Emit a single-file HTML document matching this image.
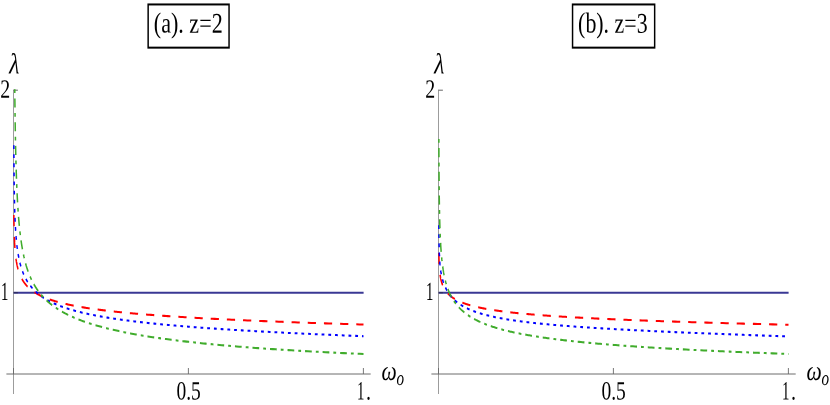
<!DOCTYPE html>
<html><head><meta charset="utf-8"><title>plot</title>
<style>
html,body{margin:0;padding:0;background:#fff;}
body{width:830px;height:405px;overflow:hidden;font-family:"Liberation Serif",serif;}
svg{display:block}
.t{font-family:"Liberation Serif",serif;fill:#000}
.i{font-family:"Liberation Serif",serif;font-style:italic;fill:#000}
</style></head><body>
<svg width="830" height="405" viewBox="0 0 830 405">
<rect width="830" height="405" fill="#fff"/>
<g stroke="#666" fill="none">
<line x1="6.4" y1="374" x2="370.7" y2="374" stroke-width="1" stroke="#6c6c6c"/>
<line x1="13.5" y1="89.7" x2="13.5" y2="394" stroke-width="0.65"/>
<line x1="13.5" y1="368" x2="13.5" y2="374" stroke-width="0.88"/>
<line x1="188.4" y1="368" x2="188.4" y2="374" stroke-width="0.88"/>
<line x1="363.4" y1="368" x2="363.4" y2="374" stroke-width="0.88"/>
</g>
<line x1="13.6" y1="292.7" x2="363.6" y2="292.7" stroke="#3a3894" stroke-width="1.9"/>
<g stroke="#666" fill="none" stroke-width="1">
<line x1="13.5" y1="90.2" x2="17.9" y2="90.2"/>
<line x1="13.5" y1="292.8" x2="17.9" y2="292.8" stroke="#222" stroke-opacity="0.6"/>
</g>
<g transform="scale(0.74,1)" fill="none" stroke-width="2.05" stroke-linejoin="round">
<path d="M 18.72,215.09 18.72,215.43 18.73,215.78 18.73,216.11 18.74,216.45 18.74,216.79 18.75,217.12 18.76,217.46 18.76,217.79 18.77,218.12 18.77,218.44 18.78,218.77 18.79,219.10 18.79,219.42 18.80,219.74 18.81,220.06 18.81,220.38 18.82,220.70 18.83,221.02 18.83,221.34 18.84,221.65 18.85,221.96 18.85,222.27 18.86,222.58 18.87,222.89 18.87,223.20 18.88,223.51 18.89,223.81 18.90,224.12 18.90,224.42 18.91,224.72 18.92,225.02 18.93,225.32 18.94,225.62 18.94,225.91 18.95,226.21 18.96,226.50 18.97,226.80 18.98,227.09 18.98,227.38 18.99,227.67 19.00,227.96 19.01,228.24 19.02,228.53 19.03,228.82 19.04,229.10 19.05,229.38 19.06,229.67 19.07,229.95 19.08,230.23 19.09,230.51 19.09,230.78 19.10,231.06 19.11,231.34 19.12,231.61 19.14,231.89 19.15,232.16 19.16,232.43 19.17,232.70 19.18,232.97 19.19,233.24 19.20,233.51 19.21,233.78 19.22,234.05 19.23,234.31 19.24,234.58 19.26,234.84 19.27,235.10 19.28,235.37 19.29,235.63 19.30,235.89 19.32,236.15 19.33,236.41 19.34,236.67 19.35,236.92 19.37,237.18 19.38,237.43 19.39,237.69 19.41,237.94 19.42,238.20 19.43,238.45 19.45,238.70 19.46,238.95 19.48,239.20 19.49,239.45 19.50,239.70 19.52,239.95 19.53,240.20 19.55,240.45 19.56,240.69 19.58,240.94 19.59,241.18 19.61,241.43 19.63,241.67 19.64,241.91 19.66,242.16 19.67,242.40 19.69,242.64 19.71,242.88 19.72,243.12 19.74,243.36 19.76,243.60 19.78,243.83 19.79,244.07 19.81,244.31 19.83,244.54 19.85,244.78 19.87,245.01 19.89,245.25 19.91,245.48 19.92,245.71 19.94,245.95 19.96,246.18 19.98,246.41 20.00,246.64 20.02,246.87 20.05,247.10 20.07,247.33 20.09,247.56 20.11,247.78 20.13,248.01 20.15,248.24 20.17,248.47 20.20,248.69 20.22,248.92 20.24,249.14 20.27,249.37 20.29,249.59 20.31,249.81 20.34,250.04 20.36,250.26 20.39,250.48 20.41,250.70 20.44,250.92 20.46,251.15 20.49,251.37 20.51,251.58 20.54,251.80 20.57,252.02 20.59,252.24 20.62,252.46 20.65,252.68 20.68,252.89 20.70,253.11 20.73,253.33 20.76,253.54 20.79,253.76 20.82,253.97 20.85,254.19 20.88,254.40 20.91,254.62 20.94,254.83 20.97,255.04 21.00,255.25 21.04,255.47 21.07,255.68 21.10,255.89 21.13,256.10 21.17,256.31 21.20,256.52 21.24,256.73 21.27,256.94 21.31,257.15 21.34,257.36 21.38,257.57 21.41,257.77 21.45,257.98 21.49,258.19 21.53,258.40 21.56,258.60 21.60,258.81 21.64,259.01 21.68,259.22 21.72,259.42 21.76,259.63 21.80,259.83 21.84,260.04 21.89,260.24 21.93,260.45 21.97,260.65 22.01,260.85 22.06,261.05 22.10,261.26 22.15,261.46 22.19,261.66 22.24,261.86 22.28,262.06 22.33,262.26 22.38,262.46 22.43,262.66 22.47,262.86 22.52,263.06 22.57,263.26 22.62,263.46 22.67,263.66 22.73,263.86 22.78,264.05 22.83,264.25 22.88,264.45 22.94,264.65 22.99,264.84 23.05,265.04 23.10,265.23 23.16,265.43 23.22,265.63 23.27,265.82 23.33,266.02 23.39,266.21 23.45,266.40 23.51,266.60 23.57,266.79 23.63,266.99 23.70,267.18 23.76,267.37 23.82,267.56 23.89,267.76 23.95,267.95 24.02,268.14 24.09,268.33 24.15,268.52 24.22,268.72 24.29,268.91 24.36,269.10 24.43,269.29 24.51,269.48 24.58,269.67 24.65,269.86 24.73,270.05 24.80,270.23 24.88,270.42 24.95,270.61 25.03,270.80 25.11,270.99 25.19,271.18 25.27,271.36 25.35,271.55 25.43,271.74 25.52,271.92 25.60,272.11 25.69,272.30 25.77,272.48 25.86,272.67 25.95,272.85 26.04,273.04 26.13,273.22 26.22,273.41 26.31,273.59 26.41,273.78 26.50,273.96 26.60,274.14 26.69,274.33 26.79,274.51 26.89,274.69 26.99,274.88 27.09,275.06 27.20,275.24 27.30,275.42 27.41,275.60 27.51,275.79 27.62,275.97 27.73,276.15 27.84,276.33 27.95,276.51 28.06,276.69 28.18,276.87 28.29,277.05 28.41,277.23 28.52,277.41 28.64,277.59 28.76,277.76 28.89,277.94 29.01,278.12 29.14,278.30 29.26,278.48 29.39,278.66 29.52,278.83 29.65,279.01 29.78,279.19 29.92,279.36 30.05,279.54 30.19,279.72 30.33,279.89 30.47,280.07 30.61,280.24 30.75,280.42 30.90,280.59 31.04,280.77 31.19,280.94 31.34,281.12 31.49,281.29 31.65,281.46 31.80,281.64 31.96,281.81 32.12,281.98 32.28,282.16 32.44,282.33 32.61,282.50 32.77,282.67 32.94,282.85 33.11,283.02 33.29,283.19 33.46,283.36 33.64,283.53 33.82,283.70 34.00,283.87 34.18,284.04 34.36,284.21 34.55,284.38 34.74,284.55 34.93,284.72 35.13,284.89 35.32,285.06 35.52,285.23 35.72,285.39 35.92,285.56 36.13,285.73 36.33,285.90 36.54,286.07 36.76,286.23 36.97,286.40 37.19,286.57 37.41,286.73 37.63,286.90 37.86,287.06 38.08,287.23 38.31,287.40 38.55,287.56 38.78,287.73 39.02,287.89 39.26,288.05 39.50,288.22 39.75,288.38 40.00,288.55 40.25,288.71 40.51,288.87 40.77,289.04 41.03,289.20 41.29,289.36 41.56,289.52 41.83,289.69 42.10,289.85 42.38,290.01 42.66,290.17 42.94,290.33 43.23,290.49 43.52,290.65 43.81,290.81 44.11,290.97 44.41,291.13 44.71,291.29 45.02,291.45 45.33,291.61 45.64,291.77 45.96,291.93 46.28,292.09 46.61,292.25 46.94,292.40 47.27,292.56 47.61,292.72 47.95,292.88 48.29,293.03 48.64,293.19 48.99,293.35 49.35,293.50 49.71,293.66 50.08,293.81 50.45,293.97 50.82,294.12 51.20,294.28 51.58,294.43 51.97,294.59 52.36,294.74 52.75,294.90 53.15,295.05 53.56,295.20 53.97,295.36 54.38,295.51 54.80,295.66 55.23,295.81 55.65,295.97 56.09,296.12 56.53,296.27 56.97,296.42 57.42,296.57 57.87,296.72 58.33,296.88 58.80,297.03 59.27,297.18 59.75,297.33 60.23,297.48 60.71,297.63 61.21,297.77 61.71,297.92 62.21,298.07 62.72,298.22 63.24,298.37 63.76,298.52 64.28,298.67 64.82,298.81 65.36,298.96 65.91,299.11 66.46,299.25 67.02,299.40 67.58,299.55 68.16,299.69 68.73,299.84 69.32,299.99 69.91,300.13 70.51,300.28 71.12,300.42 71.73,300.57 72.35,300.71 72.98,300.85 73.61,301.00 74.26,301.14 74.91,301.29 75.56,301.43 76.23,301.57 76.90,301.71 77.58,301.86 78.27,302.00 78.97,302.14 79.67,302.28 80.38,302.42 81.10,302.57 81.83,302.71 82.57,302.85 83.32,302.99 84.07,303.13 84.83,303.27 85.61,303.41 86.39,303.55 87.18,303.69 87.98,303.83 88.79,303.97 89.61,304.11 90.43,304.24 91.27,304.38 92.12,304.52 92.97,304.66 93.84,304.80 94.72,304.93 95.60,305.07 96.50,305.21 97.41,305.34 98.33,305.48 99.26,305.62 100.20,305.75 101.15,305.89 102.11,306.02 103.08,306.16 104.07,306.29 105.06,306.43 106.07,306.56 107.09,306.70 108.12,306.83 109.16,306.97 110.21,307.10 111.28,307.23 112.36,307.37 113.45,307.50 114.56,307.63 115.67,307.77 116.80,307.90 117.95,308.03 119.10,308.16 120.27,308.30 121.46,308.43 122.65,308.56 123.86,308.69 125.09,308.82 126.33,308.95 127.58,309.08 128.85,309.21 130.13,309.34 131.43,309.47 132.74,309.60 134.07,309.73 135.42,309.86 136.77,309.99 138.15,310.12 139.54,310.25 140.95,310.38 142.37,310.51 143.81,310.64 145.27,310.76 146.74,310.89 148.23,311.02 149.74,311.15 151.26,311.27 152.81,311.40 154.37,311.53 155.95,311.66 157.54,311.78 159.16,311.91 160.79,312.03 162.45,312.16 164.12,312.29 165.81,312.41 167.52,312.54 169.25,312.66 171.01,312.79 172.78,312.91 174.57,313.04 176.38,313.16 178.22,313.29 180.07,313.41 181.95,313.54 183.85,313.66 185.77,313.78 187.71,313.91 189.68,314.03 191.67,314.16 193.68,314.28 195.71,314.40 197.77,314.53 199.85,314.65 201.96,314.77 204.09,314.89 206.25,315.02 208.43,315.14 210.63,315.26 212.87,315.38 215.12,315.50 217.41,315.63 219.72,315.75 222.05,315.87 224.42,315.99 226.81,316.11 229.23,316.23 231.68,316.36 234.15,316.48 236.66,316.60 239.19,316.72 241.75,316.84 244.34,316.96 246.97,317.08 249.62,317.20 252.30,317.32 255.02,317.44 257.76,317.56 260.54,317.68 263.35,317.80 266.20,317.92 269.07,318.04 271.98,318.16 274.92,318.28 277.90,318.40 280.91,318.52 283.96,318.64 287.04,318.76 290.16,318.87 293.31,318.99 296.50,319.11 299.73,319.23 303.00,319.35 306.30,319.47 309.64,319.59 313.02,319.71 316.44,319.83 319.90,319.94 323.40,320.06 326.94,320.18 330.52,320.30 334.14,320.42 337.80,320.54 341.51,320.65 345.26,320.77 349.05,320.89 352.89,321.01 356.77,321.13 360.70,321.25 364.67,321.36 368.69,321.48 372.75,321.60 376.86,321.72 381.02,321.84 385.23,321.95 389.49,322.07 393.79,322.19 398.15,322.31 402.56,322.43 407.01,322.55 411.52,322.66 416.09,322.78 420.70,322.90 425.37,323.02 430.09,323.14 434.87,323.25 439.70,323.37 444.59,323.49 449.53,323.61 454.54,323.73 459.60,323.85 464.72,323.97 469.89,324.08 475.13,324.20 480.43,324.32 485.79,324.44 491.22,324.56" stroke="#ff0000" stroke-dasharray="11.1 10.77"/>
<path d="M 18.72,145.15 18.72,145.98 18.73,146.80 18.73,147.62 18.74,148.43 18.74,149.23 18.75,150.03 18.76,150.82 18.76,151.61 18.77,152.39 18.77,153.17 18.78,153.94 18.79,154.71 18.79,155.47 18.80,156.23 18.81,156.98 18.81,157.72 18.82,158.46 18.83,159.20 18.83,159.93 18.84,160.65 18.85,161.38 18.85,162.09 18.86,162.80 18.87,163.51 18.87,164.21 18.88,164.91 18.89,165.60 18.90,166.29 18.90,166.98 18.91,167.66 18.92,168.33 18.93,169.00 18.94,169.67 18.94,170.33 18.95,170.99 18.96,171.65 18.97,172.30 18.98,172.95 18.98,173.59 18.99,174.23 19.00,174.86 19.01,175.49 19.02,176.12 19.03,176.75 19.04,177.37 19.05,177.98 19.06,178.60 19.07,179.20 19.08,179.81 19.09,180.41 19.09,181.01 19.10,181.61 19.11,182.20 19.12,182.79 19.14,183.37 19.15,183.96 19.16,184.53 19.17,185.11 19.18,185.68 19.19,186.25 19.20,186.82 19.21,187.38 19.22,187.94 19.23,188.50 19.24,189.05 19.26,189.60 19.27,190.15 19.28,190.70 19.29,191.24 19.30,191.78 19.32,192.32 19.33,192.85 19.34,193.38 19.35,193.91 19.37,194.44 19.38,194.96 19.39,195.48 19.41,196.00 19.42,196.52 19.43,197.03 19.45,197.54 19.46,198.05 19.48,198.56 19.49,199.06 19.50,199.56 19.52,200.06 19.53,200.56 19.55,201.05 19.56,201.54 19.58,202.03 19.59,202.52 19.61,203.00 19.63,203.49 19.64,203.97 19.66,204.45 19.67,204.92 19.69,205.40 19.71,205.87 19.72,206.34 19.74,206.81 19.76,207.27 19.78,207.74 19.79,208.20 19.81,208.66 19.83,209.12 19.85,209.57 19.87,210.03 19.89,210.48 19.91,210.93 19.92,211.38 19.94,211.83 19.96,212.27 19.98,212.72 20.00,213.16 20.02,213.60 20.05,214.03 20.07,214.47 20.09,214.91 20.11,215.34 20.13,215.77 20.15,216.20 20.17,216.63 20.20,217.05 20.22,217.48 20.24,217.90 20.27,218.32 20.29,218.74 20.31,219.16 20.34,219.58 20.36,220.00 20.39,220.41 20.41,220.82 20.44,221.23 20.46,221.64 20.49,222.05 20.51,222.46 20.54,222.86 20.57,223.27 20.59,223.67 20.62,224.07 20.65,224.47 20.68,224.87 20.70,225.27 20.73,225.66 20.76,226.06 20.79,226.45 20.82,226.84 20.85,227.23 20.88,227.62 20.91,228.01 20.94,228.40 20.97,228.79 21.00,229.17 21.04,229.55 21.07,229.94 21.10,230.32 21.13,230.70 21.17,231.08 21.20,231.45 21.24,231.83 21.27,232.21 21.31,232.58 21.34,232.95 21.38,233.33 21.41,233.70 21.45,234.07 21.49,234.43 21.53,234.80 21.56,235.17 21.60,235.54 21.64,235.90 21.68,236.26 21.72,236.63 21.76,236.99 21.80,237.35 21.84,237.71 21.89,238.07 21.93,238.42 21.97,238.78 22.01,239.14 22.06,239.49 22.10,239.85 22.15,240.20 22.19,240.55 22.24,240.90 22.28,241.25 22.33,241.60 22.38,241.95 22.43,242.30 22.47,242.64 22.52,242.99 22.57,243.33 22.62,243.68 22.67,244.02 22.73,244.36 22.78,244.71 22.83,245.05 22.88,245.39 22.94,245.72 22.99,246.06 23.05,246.40 23.10,246.74 23.16,247.07 23.22,247.41 23.27,247.74 23.33,248.07 23.39,248.41 23.45,248.74 23.51,249.07 23.57,249.40 23.63,249.73 23.70,250.06 23.76,250.39 23.82,250.71 23.89,251.04 23.95,251.37 24.02,251.69 24.09,252.01 24.15,252.34 24.22,252.66 24.29,252.98 24.36,253.30 24.43,253.62 24.51,253.94 24.58,254.26 24.65,254.58 24.73,254.90 24.80,255.22 24.88,255.53 24.95,255.85 25.03,256.16 25.11,256.48 25.19,256.79 25.27,257.10 25.35,257.42 25.43,257.73 25.52,258.04 25.60,258.35 25.69,258.66 25.77,258.97 25.86,259.28 25.95,259.58 26.04,259.89 26.13,260.20 26.22,260.50 26.31,260.81 26.41,261.11 26.50,261.42 26.60,261.72 26.69,262.02 26.79,262.32 26.89,262.62 26.99,262.92 27.09,263.22 27.20,263.52 27.30,263.82 27.41,264.12 27.51,264.42 27.62,264.71 27.73,265.01 27.84,265.31 27.95,265.60 28.06,265.90 28.18,266.19 28.29,266.48 28.41,266.78 28.52,267.07 28.64,267.36 28.76,267.65 28.89,267.94 29.01,268.23 29.14,268.52 29.26,268.81 29.39,269.10 29.52,269.38 29.65,269.67 29.78,269.96 29.92,270.24 30.05,270.53 30.19,270.81 30.33,271.09 30.47,271.38 30.61,271.66 30.75,271.94 30.90,272.22 31.04,272.50 31.19,272.78 31.34,273.06 31.49,273.34 31.65,273.62 31.80,273.90 31.96,274.18 32.12,274.45 32.28,274.73 32.44,275.01 32.61,275.28 32.77,275.56 32.94,275.83 33.11,276.10 33.29,276.38 33.46,276.65 33.64,276.92 33.82,277.19 34.00,277.46 34.18,277.73 34.36,278.00 34.55,278.27 34.74,278.54 34.93,278.81 35.13,279.07 35.32,279.34 35.52,279.61 35.72,279.87 35.92,280.14 36.13,280.40 36.33,280.67 36.54,280.93 36.76,281.19 36.97,281.45 37.19,281.72 37.41,281.98 37.63,282.24 37.86,282.50 38.08,282.76 38.31,283.02 38.55,283.27 38.78,283.53 39.02,283.79 39.26,284.05 39.50,284.30 39.75,284.56 40.00,284.81 40.25,285.07 40.51,285.32 40.77,285.57 41.03,285.83 41.29,286.08 41.56,286.33 41.83,286.58 42.10,286.83 42.38,287.08 42.66,287.33 42.94,287.58 43.23,287.83 43.52,288.08 43.81,288.33 44.11,288.57 44.41,288.82 44.71,289.06 45.02,289.31 45.33,289.55 45.64,289.80 45.96,290.04 46.28,290.28 46.61,290.53 46.94,290.77 47.27,291.01 47.61,291.25 47.95,291.49 48.29,291.73 48.64,291.97 48.99,292.21 49.35,292.45 49.71,292.68 50.08,292.92 50.45,293.16 50.82,293.39 51.20,293.63 51.58,293.86 51.97,294.10 52.36,294.33 52.75,294.57 53.15,294.80 53.56,295.03 53.97,295.26 54.38,295.49 54.80,295.72 55.23,295.95 55.65,296.18 56.09,296.41 56.53,296.64 56.97,296.87 57.42,297.09 57.87,297.32 58.33,297.55 58.80,297.77 59.27,298.00 59.75,298.22 60.23,298.45 60.71,298.67 61.21,298.89 61.71,299.12 62.21,299.34 62.72,299.56 63.24,299.78 63.76,300.00 64.28,300.22 64.82,300.44 65.36,300.66 65.91,300.88 66.46,301.09 67.02,301.31 67.58,301.53 68.16,301.74 68.73,301.96 69.32,302.18 69.91,302.39 70.51,302.60 71.12,302.82 71.73,303.03 72.35,303.24 72.98,303.46 73.61,303.67 74.26,303.88 74.91,304.09 75.56,304.30 76.23,304.51 76.90,304.72 77.58,304.92 78.27,305.13 78.97,305.34 79.67,305.55 80.38,305.75 81.10,305.96 81.83,306.16 82.57,306.37 83.32,306.57 84.07,306.78 84.83,306.98 85.61,307.18 86.39,307.39 87.18,307.59 87.98,307.79 88.79,307.99 89.61,308.19 90.43,308.39 91.27,308.59 92.12,308.79 92.97,308.99 93.84,309.18 94.72,309.38 95.60,309.58 96.50,309.78 97.41,309.97 98.33,310.17 99.26,310.36 100.20,310.56 101.15,310.75 102.11,310.94 103.08,311.14 104.07,311.33 105.06,311.52 106.07,311.71 107.09,311.90 108.12,312.10 109.16,312.29 110.21,312.48 111.28,312.66 112.36,312.85 113.45,313.04 114.56,313.23 115.67,313.42 116.80,313.61 117.95,313.79 119.10,313.98 120.27,314.16 121.46,314.35 122.65,314.53 123.86,314.72 125.09,314.90 126.33,315.09 127.58,315.27 128.85,315.45 130.13,315.63 131.43,315.82 132.74,316.00 134.07,316.18 135.42,316.36 136.77,316.54 138.15,316.72 139.54,316.90 140.95,317.08 142.37,317.26 143.81,317.44 145.27,317.61 146.74,317.79 148.23,317.97 149.74,318.15 151.26,318.32 152.81,318.50 154.37,318.67 155.95,318.85 157.54,319.02 159.16,319.20 160.79,319.37 162.45,319.54 164.12,319.72 165.81,319.89 167.52,320.06 169.25,320.24 171.01,320.41 172.78,320.58 174.57,320.75 176.38,320.92 178.22,321.09 180.07,321.26 181.95,321.43 183.85,321.60 185.77,321.77 187.71,321.94 189.68,322.11 191.67,322.28 193.68,322.45 195.71,322.61 197.77,322.78 199.85,322.95 201.96,323.11 204.09,323.28 206.25,323.45 208.43,323.61 210.63,323.78 212.87,323.94 215.12,324.11 217.41,324.27 219.72,324.44 222.05,324.60 224.42,324.77 226.81,324.93 229.23,325.09 231.68,325.26 234.15,325.42 236.66,325.58 239.19,325.75 241.75,325.91 244.34,326.07 246.97,326.23 249.62,326.39 252.30,326.55 255.02,326.72 257.76,326.88 260.54,327.04 263.35,327.20 266.20,327.36 269.07,327.52 271.98,327.68 274.92,327.84 277.90,328.00 280.91,328.16 283.96,328.32 287.04,328.48 290.16,328.64 293.31,328.80 296.50,328.95 299.73,329.11 303.00,329.27 306.30,329.43 309.64,329.59 313.02,329.75 316.44,329.91 319.90,330.06 323.40,330.22 326.94,330.38 330.52,330.54 334.14,330.70 337.80,330.85 341.51,331.01 345.26,331.17 349.05,331.33 352.89,331.48 356.77,331.64 360.70,331.80 364.67,331.95 368.69,332.11 372.75,332.27 376.86,332.43 381.02,332.58 385.23,332.74 389.49,332.90 393.79,333.05 398.15,333.21 402.56,333.37 407.01,333.53 411.52,333.68 416.09,333.84 420.70,334.00 425.37,334.16 430.09,334.31 434.87,334.47 439.70,334.63 444.59,334.79 449.53,334.94 454.54,335.10 459.60,335.26 464.72,335.42 469.89,335.57 475.13,335.73 480.43,335.89 485.79,336.05 491.22,336.21" stroke="#0000ff" stroke-dasharray="3.8 5.3"/>
<path d="M 19.95,89.30 19.96,90.33 19.98,91.80 20.00,93.26 20.02,94.71 20.05,96.15 20.07,97.59 20.09,99.02 20.11,100.44 20.13,101.85 20.15,103.25 20.17,104.64 20.20,106.03 20.22,107.40 20.24,108.77 20.27,110.13 20.29,111.48 20.31,112.83 20.34,114.16 20.36,115.49 20.39,116.81 20.41,118.12 20.44,119.43 20.46,120.72 20.49,122.01 20.51,123.29 20.54,124.57 20.57,125.83 20.59,127.09 20.62,128.34 20.65,129.59 20.68,130.83 20.70,132.05 20.73,133.28 20.76,134.49 20.79,135.70 20.82,136.90 20.85,138.09 20.88,139.28 20.91,140.46 20.94,141.63 20.97,142.80 21.00,143.95 21.04,145.11 21.07,146.25 21.10,147.39 21.13,148.52 21.17,149.65 21.20,150.77 21.24,151.88 21.27,152.98 21.31,154.08 21.34,155.17 21.38,156.26 21.41,157.34 21.45,158.41 21.49,159.48 21.53,160.54 21.56,161.60 21.60,162.65 21.64,163.69 21.68,164.73 21.72,165.76 21.76,166.78 21.80,167.80 21.84,168.81 21.89,169.82 21.93,170.82 21.97,171.82 22.01,172.81 22.06,173.79 22.10,174.77 22.15,175.75 22.19,176.71 22.24,177.68 22.28,178.63 22.33,179.58 22.38,180.53 22.43,181.47 22.47,182.40 22.52,183.33 22.57,184.26 22.62,185.18 22.67,186.09 22.73,187.00 22.78,187.90 22.83,188.80 22.88,189.70 22.94,190.58 22.99,191.47 23.05,192.35 23.10,193.22 23.16,194.09 23.22,194.95 23.27,195.81 23.33,196.67 23.39,197.52 23.45,198.36 23.51,199.20 23.57,200.04 23.63,200.87 23.70,201.69 23.76,202.52 23.82,203.33 23.89,204.15 23.95,204.95 24.02,205.76 24.09,206.56 24.15,207.35 24.22,208.14 24.29,208.93 24.36,209.71 24.43,210.49 24.51,211.26 24.58,212.03 24.65,212.80 24.73,213.56 24.80,214.32 24.88,215.07 24.95,215.82 25.03,216.56 25.11,217.30 25.19,218.04 25.27,218.77 25.35,219.50 25.43,220.23 25.52,220.95 25.60,221.67 25.69,222.38 25.77,223.09 25.86,223.80 25.95,224.50 26.04,225.20 26.13,225.89 26.22,226.58 26.31,227.27 26.41,227.96 26.50,228.64 26.60,229.31 26.69,229.99 26.79,230.66 26.89,231.32 26.99,231.99 27.09,232.65 27.20,233.30 27.30,233.96 27.41,234.61 27.51,235.25 27.62,235.89 27.73,236.53 27.84,237.17 27.95,237.80 28.06,238.43 28.18,239.06 28.29,239.68 28.41,240.30 28.52,240.92 28.64,241.54 28.76,242.15 28.89,242.75 29.01,243.36 29.14,243.96 29.26,244.56 29.39,245.16 29.52,245.75 29.65,246.34 29.78,246.93 29.92,247.51 30.05,248.09 30.19,248.67 30.33,249.25 30.47,249.82 30.61,250.39 30.75,250.96 30.90,251.52 31.04,252.09 31.19,252.65 31.34,253.20 31.49,253.76 31.65,254.31 31.80,254.86 31.96,255.40 32.12,255.95 32.28,256.49 32.44,257.03 32.61,257.56 32.77,258.09 32.94,258.63 33.11,259.15 33.29,259.68 33.46,260.20 33.64,260.72 33.82,261.24 34.00,261.76 34.18,262.27 34.36,262.78 34.55,263.29 34.74,263.80 34.93,264.30 35.13,264.81 35.32,265.31 35.52,265.80 35.72,266.30 35.92,266.79 36.13,267.28 36.33,267.77 36.54,268.26 36.76,268.74 36.97,269.23 37.19,269.71 37.41,270.18 37.63,270.66 37.86,271.13 38.08,271.61 38.31,272.08 38.55,272.54 38.78,273.01 39.02,273.47 39.26,273.93 39.50,274.39 39.75,274.85 40.00,275.31 40.25,275.76 40.51,276.21 40.77,276.66 41.03,277.11 41.29,277.56 41.56,278.00 41.83,278.45 42.10,278.89 42.38,279.32 42.66,279.76 42.94,280.20 43.23,280.63 43.52,281.06 43.81,281.49 44.11,281.92 44.41,282.35 44.71,282.77 45.02,283.19 45.33,283.61 45.64,284.03 45.96,284.45 46.28,284.87 46.61,285.28 46.94,285.70 47.27,286.11 47.61,286.52 47.95,286.92 48.29,287.33 48.64,287.74 48.99,288.14 49.35,288.54 49.71,288.94 50.08,289.34 50.45,289.74 50.82,290.13 51.20,290.53 51.58,290.92 51.97,291.31 52.36,291.70 52.75,292.09 53.15,292.47 53.56,292.86 53.97,293.24 54.38,293.63 54.80,294.01 55.23,294.39 55.65,294.76 56.09,295.14 56.53,295.52 56.97,295.89 57.42,296.26 57.87,296.63 58.33,297.00 58.80,297.37 59.27,297.74 59.75,298.11 60.23,298.47 60.71,298.83 61.21,299.20 61.71,299.56 62.21,299.92 62.72,300.27 63.24,300.63 63.76,300.99 64.28,301.34 64.82,301.69 65.36,302.05 65.91,302.40 66.46,302.75 67.02,303.10 67.58,303.44 68.16,303.79 68.73,304.13 69.32,304.48 69.91,304.82 70.51,305.16 71.12,305.50 71.73,305.84 72.35,306.18 72.98,306.52 73.61,306.85 74.26,307.19 74.91,307.52 75.56,307.85 76.23,308.18 76.90,308.51 77.58,308.84 78.27,309.17 78.97,309.50 79.67,309.83 80.38,310.15 81.10,310.47 81.83,310.80 82.57,311.12 83.32,311.44 84.07,311.76 84.83,312.08 85.61,312.40 86.39,312.71 87.18,313.03 87.98,313.34 88.79,313.66 89.61,313.97 90.43,314.28 91.27,314.59 92.12,314.90 92.97,315.21 93.84,315.52 94.72,315.83 95.60,316.13 96.50,316.44 97.41,316.74 98.33,317.05 99.26,317.35 100.20,317.65 101.15,317.95 102.11,318.25 103.08,318.55 104.07,318.85 105.06,319.14 106.07,319.44 107.09,319.74 108.12,320.03 109.16,320.32 110.21,320.62 111.28,320.91 112.36,321.20 113.45,321.49 114.56,321.78 115.67,322.07 116.80,322.35 117.95,322.64 119.10,322.92 120.27,323.21 121.46,323.49 122.65,323.78 123.86,324.06 125.09,324.34 126.33,324.62 127.58,324.90 128.85,325.18 130.13,325.46 131.43,325.73 132.74,326.01 134.07,326.29 135.42,326.56 136.77,326.84 138.15,327.11 139.54,327.38 140.95,327.65 142.37,327.92 143.81,328.19 145.27,328.46 146.74,328.73 148.23,329.00 149.74,329.27 151.26,329.53 152.81,329.80 154.37,330.06 155.95,330.33 157.54,330.59 159.16,330.85 160.79,331.11 162.45,331.37 164.12,331.63 165.81,331.89 167.52,332.15 169.25,332.41 171.01,332.66 172.78,332.92 174.57,333.17 176.38,333.43 178.22,333.68 180.07,333.94 181.95,334.19 183.85,334.44 185.77,334.69 187.71,334.94 189.68,335.19 191.67,335.44 193.68,335.68 195.71,335.93 197.77,336.18 199.85,336.42 201.96,336.67 204.09,336.91 206.25,337.15 208.43,337.40 210.63,337.64 212.87,337.88 215.12,338.12 217.41,338.36 219.72,338.59 222.05,338.83 224.42,339.07 226.81,339.30 229.23,339.54 231.68,339.77 234.15,340.01 236.66,340.24 239.19,340.47 241.75,340.71 244.34,340.94 246.97,341.17 249.62,341.39 252.30,341.62 255.02,341.85 257.76,342.08 260.54,342.30 263.35,342.53 266.20,342.75 269.07,342.98 271.98,343.20 274.92,343.42 277.90,343.64 280.91,343.86 283.96,344.08 287.04,344.30 290.16,344.52 293.31,344.74 296.50,344.96 299.73,345.17 303.00,345.39 306.30,345.60 309.64,345.81 313.02,346.03 316.44,346.24 319.90,346.45 323.40,346.66 326.94,346.87 330.52,347.08 334.14,347.29 337.80,347.49 341.51,347.70 345.26,347.90 349.05,348.11 352.89,348.31 356.77,348.52 360.70,348.72 364.67,348.92 368.69,349.12 372.75,349.32 376.86,349.52 381.02,349.72 385.23,349.91 389.49,350.11 393.79,350.30 398.15,350.50 402.56,350.69 407.01,350.88 411.52,351.08 416.09,351.27 420.70,351.46 425.37,351.65 430.09,351.84 434.87,352.02 439.70,352.21 444.59,352.39 449.53,352.58 454.54,352.76 459.60,352.95 464.72,353.13 469.89,353.31 475.13,353.49 480.43,353.67 485.79,353.85 491.22,354.02" stroke="#40ac2c" stroke-dasharray="3.8 5.37 9.1 5.45"/>
</g>
<g style="will-change:transform">
<rect transform="scale(0.74,1)" x="200.20" y="4.45" width="109.32" height="43.2" fill="none" stroke="#000" stroke-width="2"/>
<text class="t" transform="translate(153.8,32.6) scale(0.77,1) rotate(0.04)" font-size="28.7">(a). z=2</text>
<text class="t" transform="translate(8.0,73.4) scale(0.77,1) rotate(0.04) skewX(-10)" font-size="29">λ</text>
<text class="t" transform="translate(0.2,97.8) scale(0.755,1) rotate(0.04)" font-size="26.4">2</text>
<text class="t" transform="translate(1.0,300.1) scale(0.56,1) rotate(0.04)" font-size="26.2">1</text>
<text class="t" transform="translate(176.4,399.6) scale(0.735,1) rotate(0.04)" font-size="26.5">0.5</text>
<text class="t" transform="translate(357.0,399.6) scale(0.56,1) rotate(0.04)" font-size="26.5">1</text>
<text class="t" transform="translate(366.0,399.6) scale(0.76,1) rotate(0.04)" font-size="26.5">.</text>
<text class="i" transform="translate(381.5,380.1) scale(0.77,1) rotate(0.04)" font-size="28">ω</text>
<text class="i" transform="translate(396.4,385.1) scale(0.72,1) rotate(0.04)" font-size="21">o</text>
</g>
<g stroke="#666" fill="none">
<line x1="431.4" y1="374" x2="795.7" y2="374" stroke-width="1" stroke="#6c6c6c"/>
<line x1="438.5" y1="89.7" x2="438.5" y2="394" stroke-width="0.65"/>
<line x1="438.5" y1="368" x2="438.5" y2="374" stroke-width="0.88"/>
<line x1="613.4" y1="368" x2="613.4" y2="374" stroke-width="0.88"/>
<line x1="788.4" y1="368" x2="788.4" y2="374" stroke-width="0.88"/>
</g>
<line x1="438.6" y1="292.7" x2="788.6" y2="292.7" stroke="#3a3894" stroke-width="1.9"/>
<g stroke="#666" fill="none" stroke-width="1">
<line x1="438.5" y1="90.2" x2="442.9" y2="90.2"/>
<line x1="438.5" y1="292.8" x2="442.9" y2="292.8" stroke="#222" stroke-opacity="0.6"/>
</g>
<g transform="scale(0.74,1)" fill="none" stroke-width="2.05" stroke-linejoin="round">
<path d="M 593.04,253.03 593.05,253.26 593.05,253.49 593.06,253.72 593.06,253.95 593.07,254.18 593.07,254.40 593.08,254.62 593.09,254.84 593.09,255.06 593.10,255.28 593.10,255.50 593.11,255.72 593.12,255.93 593.12,256.14 593.13,256.35 593.14,256.56 593.14,256.77 593.15,256.98 593.16,257.19 593.16,257.39 593.17,257.59 593.18,257.80 593.18,258.00 593.19,258.20 593.20,258.40 593.21,258.59 593.21,258.79 593.22,258.98 593.23,259.18 593.24,259.37 593.24,259.56 593.25,259.75 593.26,259.94 593.27,260.13 593.28,260.32 593.28,260.50 593.29,260.69 593.30,260.87 593.31,261.06 593.32,261.24 593.33,261.42 593.34,261.60 593.34,261.78 593.35,261.96 593.36,262.13 593.37,262.31 593.38,262.49 593.39,262.66 593.40,262.83 593.41,263.01 593.42,263.18 593.43,263.35 593.44,263.52 593.45,263.69 593.46,263.86 593.47,264.02 593.48,264.19 593.49,264.36 593.50,264.52 593.51,264.69 593.52,264.85 593.53,265.01 593.55,265.18 593.56,265.34 593.57,265.50 593.58,265.66 593.59,265.82 593.60,265.97 593.62,266.13 593.63,266.29 593.64,266.45 593.65,266.60 593.67,266.76 593.68,266.91 593.69,267.07 593.70,267.22 593.72,267.37 593.73,267.52 593.74,267.68 593.76,267.83 593.77,267.98 593.79,268.13 593.80,268.28 593.81,268.42 593.83,268.57 593.84,268.72 593.86,268.87 593.87,269.01 593.89,269.16 593.90,269.30 593.92,269.45 593.93,269.59 593.95,269.74 593.97,269.88 593.98,270.02 594.00,270.17 594.02,270.31 594.03,270.45 594.05,270.59 594.07,270.73 594.08,270.87 594.10,271.01 594.12,271.15 594.14,271.29 594.16,271.43 594.17,271.57 594.19,271.71 594.21,271.84 594.23,271.98 594.25,272.12 594.27,272.25 594.29,272.39 594.31,272.53 594.33,272.66 594.35,272.80 594.37,272.93 594.39,273.06 594.41,273.20 594.43,273.33 594.45,273.47 594.48,273.60 594.50,273.73 594.52,273.86 594.54,274.00 594.57,274.13 594.59,274.26 594.61,274.39 594.64,274.52 594.66,274.65 594.69,274.78 594.71,274.91 594.73,275.04 594.76,275.17 594.79,275.30 594.81,275.43 594.84,275.56 594.86,275.69 594.89,275.82 594.92,275.94 594.94,276.07 594.97,276.20 595.00,276.33 595.03,276.46 595.06,276.58 595.09,276.71 595.11,276.84 595.14,276.96 595.17,277.09 595.20,277.22 595.23,277.34 595.27,277.47 595.30,277.59 595.33,277.72 595.36,277.84 595.39,277.97 595.43,278.09 595.46,278.22 595.49,278.34 595.53,278.47 595.56,278.59 595.60,278.72 595.63,278.84 595.67,278.96 595.70,279.09 595.74,279.21 595.78,279.34 595.81,279.46 595.85,279.58 595.89,279.71 595.93,279.83 595.97,279.95 596.01,280.07 596.05,280.20 596.09,280.32 596.13,280.44 596.17,280.56 596.21,280.69 596.25,280.81 596.29,280.93 596.34,281.05 596.38,281.17 596.43,281.30 596.47,281.42 596.52,281.54 596.56,281.66 596.61,281.78 596.65,281.90 596.70,282.02 596.75,282.14 596.80,282.27 596.85,282.39 596.90,282.51 596.95,282.63 597.00,282.75 597.05,282.87 597.10,282.99 597.15,283.11 597.21,283.23 597.26,283.35 597.32,283.47 597.37,283.59 597.43,283.71 597.48,283.83 597.54,283.95 597.60,284.07 597.66,284.19 597.71,284.31 597.77,284.43 597.83,284.55 597.90,284.67 597.96,284.79 598.02,284.91 598.08,285.03 598.15,285.15 598.21,285.27 598.28,285.39 598.34,285.51 598.41,285.62 598.48,285.74 598.55,285.86 598.62,285.98 598.69,286.10 598.76,286.22 598.83,286.34 598.90,286.46 598.98,286.58 599.05,286.69 599.13,286.81 599.20,286.93 599.28,287.05 599.36,287.17 599.43,287.29 599.51,287.41 599.59,287.52 599.68,287.64 599.76,287.76 599.84,287.88 599.93,288.00 600.01,288.12 600.10,288.23 600.19,288.35 600.27,288.47 600.36,288.59 600.45,288.71 600.55,288.82 600.64,288.94 600.73,289.06 600.83,289.18 600.92,289.29 601.02,289.41 601.12,289.53 601.22,289.65 601.32,289.77 601.42,289.88 601.52,290.00 601.62,290.12 601.73,290.24 601.84,290.35 601.94,290.47 602.05,290.59 602.16,290.70 602.27,290.82 602.39,290.94 602.50,291.06 602.61,291.17 602.73,291.29 602.85,291.41 602.97,291.52 603.09,291.64 603.21,291.76 603.33,291.87 603.46,291.99 603.59,292.11 603.71,292.22 603.84,292.34 603.97,292.46 604.11,292.57 604.24,292.69 604.38,292.81 604.51,292.92 604.65,293.04 604.79,293.15 604.93,293.27 605.08,293.39 605.22,293.50 605.37,293.62 605.52,293.73 605.67,293.85 605.82,293.97 605.97,294.08 606.13,294.20 606.29,294.31 606.44,294.43 606.61,294.54 606.77,294.66 606.93,294.77 607.10,294.89 607.27,295.00 607.44,295.12 607.61,295.23 607.79,295.35 607.96,295.46 608.14,295.58 608.32,295.69 608.50,295.81 608.69,295.92 608.88,296.04 609.06,296.15 609.26,296.27 609.45,296.38 609.65,296.49 609.84,296.61 610.04,296.72 610.25,296.84 610.45,296.95 610.66,297.06 610.87,297.18 611.08,297.29 611.30,297.40 611.51,297.52 611.73,297.63 611.96,297.74 612.18,297.86 612.41,297.97 612.64,298.08 612.87,298.20 613.11,298.31 613.34,298.42 613.59,298.53 613.83,298.65 614.08,298.76 614.32,298.87 614.58,298.98 614.83,299.09 615.09,299.21 615.35,299.32 615.62,299.43 615.88,299.54 616.15,299.65 616.43,299.77 616.70,299.88 616.98,299.99 617.27,300.10 617.55,300.21 617.84,300.32 618.14,300.43 618.43,300.54 618.73,300.65 619.04,300.76 619.34,300.87 619.65,300.98 619.97,301.09 620.29,301.20 620.61,301.31 620.93,301.42 621.26,301.53 621.60,301.64 621.93,301.75 622.27,301.86 622.62,301.97 622.97,302.08 623.32,302.19 623.68,302.30 624.04,302.41 624.40,302.51 624.77,302.62 625.14,302.73 625.52,302.84 625.90,302.95 626.29,303.06 626.68,303.16 627.08,303.27 627.48,303.38 627.88,303.49 628.29,303.59 628.71,303.70 629.13,303.81 629.55,303.91 629.98,304.02 630.41,304.13 630.85,304.23 631.30,304.34 631.74,304.45 632.20,304.55 632.66,304.66 633.12,304.76 633.59,304.87 634.07,304.97 634.55,305.08 635.04,305.19 635.53,305.29 636.03,305.40 636.53,305.50 637.04,305.60 637.56,305.71 638.08,305.81 638.61,305.92 639.14,306.02 639.68,306.13 640.23,306.23 640.78,306.33 641.34,306.44 641.91,306.54 642.48,306.64 643.06,306.75 643.64,306.85 644.24,306.95 644.84,307.05 645.44,307.16 646.06,307.26 646.68,307.36 647.30,307.46 647.94,307.56 648.58,307.66 649.23,307.77 649.89,307.87 650.55,307.97 651.23,308.07 651.91,308.17 652.59,308.27 653.29,308.37 653.99,308.47 654.71,308.57 655.43,308.67 656.16,308.77 656.89,308.87 657.64,308.97 658.40,309.07 659.16,309.17 659.93,309.27 660.71,309.37 661.50,309.47 662.30,309.57 663.11,309.66 663.93,309.76 664.76,309.86 665.59,309.96 666.44,310.06 667.30,310.16 668.17,310.25 669.04,310.35 669.93,310.45 670.83,310.54 671.73,310.64 672.65,310.74 673.58,310.84 674.52,310.93 675.47,311.03 676.43,311.12 677.41,311.22 678.39,311.32 679.39,311.41 680.39,311.51 681.41,311.60 682.44,311.70 683.48,311.79 684.54,311.89 685.61,311.99 686.68,312.08 687.78,312.17 688.88,312.27 690.00,312.36 691.13,312.46 692.27,312.55 693.43,312.65 694.60,312.74 695.78,312.83 696.98,312.93 698.19,313.02 699.41,313.11 700.65,313.21 701.91,313.30 703.18,313.39 704.46,313.49 705.76,313.58 707.07,313.67 708.40,313.76 709.74,313.86 711.10,313.95 712.47,314.04 713.86,314.13 715.27,314.22 716.70,314.32 718.13,314.41 719.59,314.50 721.06,314.59 722.56,314.68 724.06,314.77 725.59,314.86 727.13,314.96 728.69,315.05 730.27,315.14 731.87,315.23 733.48,315.32 735.12,315.41 736.77,315.50 738.44,315.59 740.14,315.68 741.85,315.77 743.58,315.86 745.33,315.95 747.10,316.04 748.89,316.13 750.71,316.22 752.54,316.31 754.40,316.40 756.27,316.49 758.17,316.58 760.09,316.66 762.04,316.75 764.00,316.84 765.99,316.93 768.00,317.02 770.04,317.11 772.10,317.20 774.18,317.29 776.29,317.38 778.42,317.46 780.57,317.55 782.75,317.64 784.96,317.73 787.19,317.82 789.45,317.91 791.73,318.00 794.04,318.08 796.38,318.17 798.74,318.26 801.13,318.35 803.55,318.44 806.00,318.52 808.48,318.61 810.98,318.70 813.51,318.79 816.08,318.88 818.67,318.97 821.29,319.05 823.94,319.14 826.63,319.23 829.34,319.32 832.09,319.41 834.87,319.49 837.68,319.58 840.52,319.67 843.40,319.76 846.31,319.85 849.25,319.93 852.23,320.02 855.24,320.11 858.28,320.20 861.37,320.29 864.48,320.38 867.64,320.46 870.83,320.55 874.06,320.64 877.32,320.73 880.62,320.82 883.97,320.91 887.34,321.00 890.76,321.08 894.22,321.17 897.72,321.26 901.26,321.35 904.84,321.44 908.46,321.53 912.13,321.62 915.83,321.71 919.58,321.80 923.38,321.89 927.21,321.98 931.10,322.07 935.02,322.16 938.99,322.25 943.01,322.34 947.08,322.43 951.19,322.52 955.35,322.61 959.56,322.70 963.81,322.79 968.12,322.88 972.47,322.97 976.88,323.06 981.34,323.15 985.85,323.24 990.41,323.34 995.02,323.43 999.69,323.52 1004.41,323.61 1009.19,323.71 1014.02,323.80 1018.91,323.89 1023.86,323.98 1028.86,324.08 1033.92,324.17 1039.04,324.26 1044.22,324.36 1049.46,324.45 1054.76,324.55 1060.12,324.64 1065.54,324.74" stroke="#ff0000" stroke-dasharray="11.1 10.77"/>
<path d="M 593.04,225.18 593.05,225.73 593.05,226.28 593.06,226.83 593.06,227.36 593.07,227.89 593.07,228.42 593.08,228.94 593.09,229.45 593.09,229.95 593.10,230.45 593.10,230.95 593.11,231.44 593.12,231.92 593.12,232.40 593.13,232.87 593.14,233.34 593.14,233.80 593.15,234.26 593.16,234.71 593.16,235.15 593.17,235.59 593.18,236.03 593.18,236.46 593.19,236.89 593.20,237.31 593.21,237.73 593.21,238.14 593.22,238.55 593.23,238.95 593.24,239.35 593.24,239.75 593.25,240.14 593.26,240.52 593.27,240.91 593.28,241.28 593.28,241.66 593.29,242.03 593.30,242.40 593.31,242.76 593.32,243.12 593.33,243.47 593.34,243.82 593.34,244.17 593.35,244.52 593.36,244.86 593.37,245.19 593.38,245.53 593.39,245.86 593.40,246.19 593.41,246.51 593.42,246.83 593.43,247.15 593.44,247.46 593.45,247.78 593.46,248.08 593.47,248.39 593.48,248.69 593.49,248.99 593.50,249.29 593.51,249.58 593.52,249.88 593.53,250.16 593.55,250.45 593.56,250.73 593.57,251.02 593.58,251.29 593.59,251.57 593.60,251.84 593.62,252.12 593.63,252.38 593.64,252.65 593.65,252.92 593.67,253.18 593.68,253.44 593.69,253.70 593.70,253.95 593.72,254.20 593.73,254.46 593.74,254.71 593.76,254.95 593.77,255.20 593.79,255.44 593.80,255.68 593.81,255.92 593.83,256.16 593.84,256.40 593.86,256.63 593.87,256.87 593.89,257.10 593.90,257.33 593.92,257.56 593.93,257.78 593.95,258.01 593.97,258.23 593.98,258.45 594.00,258.67 594.02,258.89 594.03,259.11 594.05,259.32 594.07,259.54 594.08,259.75 594.10,259.96 594.12,260.17 594.14,260.38 594.16,260.59 594.17,260.80 594.19,261.00 594.21,261.21 594.23,261.41 594.25,261.61 594.27,261.82 594.29,262.02 594.31,262.21 594.33,262.41 594.35,262.61 594.37,262.81 594.39,263.00 594.41,263.20 594.43,263.39 594.45,263.58 594.48,263.77 594.50,263.96 594.52,264.15 594.54,264.34 594.57,264.53 594.59,264.72 594.61,264.90 594.64,265.09 594.66,265.28 594.69,265.46 594.71,265.64 594.73,265.83 594.76,266.01 594.79,266.19 594.81,266.37 594.84,266.55 594.86,266.73 594.89,266.91 594.92,267.09 594.94,267.27 594.97,267.45 595.00,267.63 595.03,267.80 595.06,267.98 595.09,268.16 595.11,268.33 595.14,268.51 595.17,268.68 595.20,268.85 595.23,269.03 595.27,269.20 595.30,269.38 595.33,269.55 595.36,269.72 595.39,269.89 595.43,270.06 595.46,270.24 595.49,270.41 595.53,270.58 595.56,270.75 595.60,270.92 595.63,271.09 595.67,271.26 595.70,271.43 595.74,271.60 595.78,271.77 595.81,271.94 595.85,272.11 595.89,272.28 595.93,272.44 595.97,272.61 596.01,272.78 596.05,272.95 596.09,273.12 596.13,273.29 596.17,273.45 596.21,273.62 596.25,273.79 596.29,273.96 596.34,274.12 596.38,274.29 596.43,274.46 596.47,274.62 596.52,274.79 596.56,274.96 596.61,275.13 596.65,275.29 596.70,275.46 596.75,275.63 596.80,275.79 596.85,275.96 596.90,276.13 596.95,276.30 597.00,276.46 597.05,276.63 597.10,276.80 597.15,276.96 597.21,277.13 597.26,277.30 597.32,277.46 597.37,277.63 597.43,277.80 597.48,277.97 597.54,278.13 597.60,278.30 597.66,278.47 597.71,278.64 597.77,278.80 597.83,278.97 597.90,279.14 597.96,279.31 598.02,279.47 598.08,279.64 598.15,279.81 598.21,279.98 598.28,280.15 598.34,280.31 598.41,280.48 598.48,280.65 598.55,280.82 598.62,280.99 598.69,281.16 598.76,281.32 598.83,281.49 598.90,281.66 598.98,281.83 599.05,282.00 599.13,282.17 599.20,282.34 599.28,282.51 599.36,282.68 599.43,282.85 599.51,283.02 599.59,283.19 599.68,283.36 599.76,283.53 599.84,283.70 599.93,283.87 600.01,284.04 600.10,284.21 600.19,284.38 600.27,284.55 600.36,284.72 600.45,284.89 600.55,285.06 600.64,285.23 600.73,285.41 600.83,285.58 600.92,285.75 601.02,285.92 601.12,286.09 601.22,286.26 601.32,286.44 601.42,286.61 601.52,286.78 601.62,286.95 601.73,287.12 601.84,287.30 601.94,287.47 602.05,287.64 602.16,287.81 602.27,287.99 602.39,288.16 602.50,288.33 602.61,288.51 602.73,288.68 602.85,288.85 602.97,289.03 603.09,289.20 603.21,289.37 603.33,289.54 603.46,289.72 603.59,289.89 603.71,290.07 603.84,290.24 603.97,290.41 604.11,290.59 604.24,290.76 604.38,290.93 604.51,291.11 604.65,291.28 604.79,291.46 604.93,291.63 605.08,291.80 605.22,291.98 605.37,292.15 605.52,292.32 605.67,292.50 605.82,292.67 605.97,292.85 606.13,293.02 606.29,293.19 606.44,293.37 606.61,293.54 606.77,293.72 606.93,293.89 607.10,294.06 607.27,294.24 607.44,294.41 607.61,294.59 607.79,294.76 607.96,294.93 608.14,295.11 608.32,295.28 608.50,295.46 608.69,295.63 608.88,295.80 609.06,295.98 609.26,296.15 609.45,296.32 609.65,296.50 609.84,296.67 610.04,296.84 610.25,297.02 610.45,297.19 610.66,297.36 610.87,297.53 611.08,297.71 611.30,297.88 611.51,298.05 611.73,298.22 611.96,298.40 612.18,298.57 612.41,298.74 612.64,298.91 612.87,299.09 613.11,299.26 613.34,299.43 613.59,299.60 613.83,299.77 614.08,299.94 614.32,300.11 614.58,300.28 614.83,300.46 615.09,300.63 615.35,300.80 615.62,300.97 615.88,301.14 616.15,301.31 616.43,301.48 616.70,301.65 616.98,301.81 617.27,301.98 617.55,302.15 617.84,302.32 618.14,302.49 618.43,302.66 618.73,302.83 619.04,302.99 619.34,303.16 619.65,303.33 619.97,303.50 620.29,303.66 620.61,303.83 620.93,304.00 621.26,304.16 621.60,304.33 621.93,304.50 622.27,304.66 622.62,304.83 622.97,304.99 623.32,305.16 623.68,305.32 624.04,305.48 624.40,305.65 624.77,305.81 625.14,305.98 625.52,306.14 625.90,306.30 626.29,306.46 626.68,306.63 627.08,306.79 627.48,306.95 627.88,307.11 628.29,307.27 628.71,307.43 629.13,307.59 629.55,307.76 629.98,307.92 630.41,308.07 630.85,308.23 631.30,308.39 631.74,308.55 632.20,308.71 632.66,308.87 633.12,309.03 633.59,309.18 634.07,309.34 634.55,309.50 635.04,309.65 635.53,309.81 636.03,309.96 636.53,310.12 637.04,310.27 637.56,310.43 638.08,310.58 638.61,310.74 639.14,310.89 639.68,311.04 640.23,311.20 640.78,311.35 641.34,311.50 641.91,311.65 642.48,311.80 643.06,311.96 643.64,312.11 644.24,312.26 644.84,312.41 645.44,312.56 646.06,312.70 646.68,312.85 647.30,313.00 647.94,313.15 648.58,313.30 649.23,313.44 649.89,313.59 650.55,313.74 651.23,313.88 651.91,314.03 652.59,314.17 653.29,314.32 653.99,314.46 654.71,314.61 655.43,314.75 656.16,314.90 656.89,315.04 657.64,315.18 658.40,315.32 659.16,315.46 659.93,315.61 660.71,315.75 661.50,315.89 662.30,316.03 663.11,316.17 663.93,316.31 664.76,316.45 665.59,316.58 666.44,316.72 667.30,316.86 668.17,317.00 669.04,317.14 669.93,317.27 670.83,317.41 671.73,317.54 672.65,317.68 673.58,317.81 674.52,317.95 675.47,318.08 676.43,318.22 677.41,318.35 678.39,318.48 679.39,318.62 680.39,318.75 681.41,318.88 682.44,319.01 683.48,319.14 684.54,319.28 685.61,319.41 686.68,319.54 687.78,319.67 688.88,319.80 690.00,319.92 691.13,320.05 692.27,320.18 693.43,320.31 694.60,320.44 695.78,320.56 696.98,320.69 698.19,320.82 699.41,320.94 700.65,321.07 701.91,321.20 703.18,321.32 704.46,321.45 705.76,321.57 707.07,321.70 708.40,321.82 709.74,321.94 711.10,322.07 712.47,322.19 713.86,322.31 715.27,322.43 716.70,322.56 718.13,322.68 719.59,322.80 721.06,322.92 722.56,323.04 724.06,323.16 725.59,323.28 727.13,323.40 728.69,323.52 730.27,323.64 731.87,323.76 733.48,323.88 735.12,324.00 736.77,324.12 738.44,324.24 740.14,324.35 741.85,324.47 743.58,324.59 745.33,324.71 747.10,324.83 748.89,324.94 750.71,325.06 752.54,325.18 754.40,325.29 756.27,325.41 758.17,325.52 760.09,325.64 762.04,325.76 764.00,325.87 765.99,325.99 768.00,326.10 770.04,326.22 772.10,326.33 774.18,326.45 776.29,326.56 778.42,326.68 780.57,326.79 782.75,326.91 784.96,327.02 787.19,327.14 789.45,327.25 791.73,327.36 794.04,327.48 796.38,327.59 798.74,327.71 801.13,327.82 803.55,327.94 806.00,328.05 808.48,328.16 810.98,328.28 813.51,328.39 816.08,328.51 818.67,328.62 821.29,328.73 823.94,328.85 826.63,328.96 829.34,329.08 832.09,329.19 834.87,329.31 837.68,329.42 840.52,329.53 843.40,329.65 846.31,329.76 849.25,329.88 852.23,329.99 855.24,330.11 858.28,330.23 861.37,330.34 864.48,330.46 867.64,330.57 870.83,330.69 874.06,330.81 877.32,330.92 880.62,331.04 883.97,331.16 887.34,331.28 890.76,331.39 894.22,331.51 897.72,331.63 901.26,331.75 904.84,331.87 908.46,331.99 912.13,332.11 915.83,332.23 919.58,332.35 923.38,332.47 927.21,332.59 931.10,332.71 935.02,332.83 938.99,332.96 943.01,333.08 947.08,333.20 951.19,333.33 955.35,333.45 959.56,333.58 963.81,333.70 968.12,333.83 972.47,333.95 976.88,334.08 981.34,334.21 985.85,334.34 990.41,334.46 995.02,334.59 999.69,334.72 1004.41,334.85 1009.19,334.99 1014.02,335.12 1018.91,335.25 1023.86,335.38 1028.86,335.52 1033.92,335.65 1039.04,335.79 1044.22,335.93 1049.46,336.06 1054.76,336.20 1060.12,336.34 1065.54,336.48" stroke="#0000ff" stroke-dasharray="3.8 5.3"/>
<path d="M 593.05,138.90 593.05,139.28 593.06,140.40 593.06,141.51 593.07,142.62 593.07,143.71 593.08,144.80 593.09,145.87 593.09,146.94 593.10,148.00 593.10,149.04 593.11,150.08 593.12,151.11 593.12,152.14 593.13,153.15 593.14,154.15 593.14,155.15 593.15,156.14 593.16,157.12 593.16,158.09 593.17,159.05 593.18,160.01 593.18,160.96 593.19,161.90 593.20,162.83 593.21,163.76 593.21,164.68 593.22,165.59 593.23,166.49 593.24,167.39 593.24,168.28 593.25,169.16 593.26,170.03 593.27,170.90 593.28,171.76 593.28,172.62 593.29,173.47 593.30,174.31 593.31,175.14 593.32,175.97 593.33,176.80 593.34,177.61 593.34,178.42 593.35,179.23 593.36,180.03 593.37,180.82 593.38,181.61 593.39,182.39 593.40,183.16 593.41,183.93 593.42,184.70 593.43,185.46 593.44,186.21 593.45,186.96 593.46,187.70 593.47,188.44 593.48,189.17 593.49,189.90 593.50,190.62 593.51,191.34 593.52,192.05 593.53,192.76 593.55,193.46 593.56,194.16 593.57,194.85 593.58,195.54 593.59,196.22 593.60,196.90 593.62,197.57 593.63,198.25 593.64,198.91 593.65,199.57 593.67,200.23 593.68,200.88 593.69,201.53 593.70,202.17 593.72,202.81 593.73,203.45 593.74,204.08 593.76,204.71 593.77,205.34 593.79,205.96 593.80,206.57 593.81,207.19 593.83,207.79 593.84,208.40 593.86,209.00 593.87,209.60 593.89,210.19 593.90,210.79 593.92,211.37 593.93,211.96 593.95,212.54 593.97,213.11 593.98,213.69 594.00,214.26 594.02,214.83 594.03,215.39 594.05,215.95 594.07,216.51 594.08,217.06 594.10,217.61 594.12,218.16 594.14,218.71 594.16,219.25 594.17,219.79 594.19,220.33 594.21,220.86 594.23,221.39 594.25,221.92 594.27,222.45 594.29,222.97 594.31,223.49 594.33,224.00 594.35,224.52 594.37,225.03 594.39,225.54 594.41,226.05 594.43,226.55 594.45,227.05 594.48,227.55 594.50,228.05 594.52,228.54 594.54,229.03 594.57,229.52 594.59,230.01 594.61,230.49 594.64,230.98 594.66,231.46 594.69,231.94 594.71,232.41 594.73,232.88 594.76,233.36 594.79,233.82 594.81,234.29 594.84,234.76 594.86,235.22 594.89,235.68 594.92,236.14 594.94,236.59 594.97,237.05 595.00,237.50 595.03,237.95 595.06,238.40 595.09,238.85 595.11,239.29 595.14,239.74 595.17,240.18 595.20,240.62 595.23,241.05 595.27,241.49 595.30,241.92 595.33,242.36 595.36,242.79 595.39,243.22 595.43,243.64 595.46,244.07 595.49,244.49 595.53,244.91 595.56,245.33 595.60,245.75 595.63,246.17 595.67,246.59 595.70,247.00 595.74,247.41 595.78,247.82 595.81,248.23 595.85,248.64 595.89,249.05 595.93,249.45 595.97,249.85 596.01,250.26 596.05,250.66 596.09,251.06 596.13,251.45 596.17,251.85 596.21,252.25 596.25,252.64 596.29,253.03 596.34,253.42 596.38,253.81 596.43,254.20 596.47,254.59 596.52,254.97 596.56,255.36 596.61,255.74 596.65,256.12 596.70,256.50 596.75,256.88 596.80,257.26 596.85,257.64 596.90,258.01 596.95,258.39 597.00,258.76 597.05,259.13 597.10,259.51 597.15,259.88 597.21,260.24 597.26,260.61 597.32,260.98 597.37,261.34 597.43,261.71 597.48,262.07 597.54,262.43 597.60,262.80 597.66,263.16 597.71,263.52 597.77,263.87 597.83,264.23 597.90,264.59 597.96,264.94 598.02,265.30 598.08,265.65 598.15,266.00 598.21,266.35 598.28,266.70 598.34,267.05 598.41,267.40 598.48,267.75 598.55,268.09 598.62,268.44 598.69,268.78 598.76,269.13 598.83,269.47 598.90,269.81 598.98,270.15 599.05,270.49 599.13,270.83 599.20,271.17 599.28,271.51 599.36,271.84 599.43,272.18 599.51,272.51 599.59,272.85 599.68,273.18 599.76,273.51 599.84,273.84 599.93,274.17 600.01,274.50 600.10,274.83 600.19,275.16 600.27,275.49 600.36,275.81 600.45,276.14 600.55,276.46 600.64,276.79 600.73,277.11 600.83,277.43 600.92,277.75 601.02,278.07 601.12,278.39 601.22,278.71 601.32,279.03 601.42,279.35 601.52,279.67 601.62,279.98 601.73,280.30 601.84,280.61 601.94,280.93 602.05,281.24 602.16,281.55 602.27,281.87 602.39,282.18 602.50,282.49 602.61,282.80 602.73,283.11 602.85,283.41 602.97,283.72 603.09,284.03 603.21,284.33 603.33,284.64 603.46,284.95 603.59,285.25 603.71,285.55 603.84,285.86 603.97,286.16 604.11,286.46 604.24,286.76 604.38,287.06 604.51,287.36 604.65,287.66 604.79,287.96 604.93,288.25 605.08,288.55 605.22,288.85 605.37,289.14 605.52,289.44 605.67,289.73 605.82,290.02 605.97,290.32 606.13,290.61 606.29,290.90 606.44,291.19 606.61,291.48 606.77,291.77 606.93,292.06 607.10,292.35 607.27,292.63 607.44,292.92 607.61,293.21 607.79,293.49 607.96,293.78 608.14,294.06 608.32,294.34 608.50,294.63 608.69,294.91 608.88,295.19 609.06,295.47 609.26,295.75 609.45,296.03 609.65,296.31 609.84,296.59 610.04,296.87 610.25,297.15 610.45,297.42 610.66,297.70 610.87,297.98 611.08,298.25 611.30,298.52 611.51,298.80 611.73,299.07 611.96,299.34 612.18,299.62 612.41,299.89 612.64,300.16 612.87,300.43 613.11,300.70 613.34,300.97 613.59,301.23 613.83,301.50 614.08,301.77 614.32,302.04 614.58,302.30 614.83,302.57 615.09,302.83 615.35,303.09 615.62,303.36 615.88,303.62 616.15,303.88 616.43,304.14 616.70,304.41 616.98,304.67 617.27,304.93 617.55,305.18 617.84,305.44 618.14,305.70 618.43,305.96 618.73,306.21 619.04,306.47 619.34,306.73 619.65,306.98 619.97,307.24 620.29,307.49 620.61,307.74 620.93,307.99 621.26,308.25 621.60,308.50 621.93,308.75 622.27,309.00 622.62,309.25 622.97,309.50 623.32,309.75 623.68,309.99 624.04,310.24 624.40,310.49 624.77,310.73 625.14,310.98 625.52,311.22 625.90,311.47 626.29,311.71 626.68,311.95 627.08,312.20 627.48,312.44 627.88,312.68 628.29,312.92 628.71,313.16 629.13,313.40 629.55,313.64 629.98,313.88 630.41,314.11 630.85,314.35 631.30,314.59 631.74,314.82 632.20,315.06 632.66,315.29 633.12,315.53 633.59,315.76 634.07,315.99 634.55,316.23 635.04,316.46 635.53,316.69 636.03,316.92 636.53,317.15 637.04,317.38 637.56,317.61 638.08,317.84 638.61,318.06 639.14,318.29 639.68,318.52 640.23,318.74 640.78,318.97 641.34,319.19 641.91,319.42 642.48,319.64 643.06,319.87 643.64,320.09 644.24,320.31 644.84,320.53 645.44,320.75 646.06,320.97 646.68,321.19 647.30,321.41 647.94,321.63 648.58,321.85 649.23,322.06 649.89,322.28 650.55,322.50 651.23,322.71 651.91,322.93 652.59,323.14 653.29,323.35 653.99,323.57 654.71,323.78 655.43,323.99 656.16,324.20 656.89,324.41 657.64,324.62 658.40,324.83 659.16,325.04 659.93,325.25 660.71,325.46 661.50,325.67 662.30,325.87 663.11,326.08 663.93,326.29 664.76,326.49 665.59,326.70 666.44,326.90 667.30,327.10 668.17,327.31 669.04,327.51 669.93,327.71 670.83,327.91 671.73,328.11 672.65,328.31 673.58,328.51 674.52,328.71 675.47,328.91 676.43,329.11 677.41,329.31 678.39,329.50 679.39,329.70 680.39,329.90 681.41,330.09 682.44,330.29 683.48,330.48 684.54,330.68 685.61,330.87 686.68,331.06 687.78,331.25 688.88,331.44 690.00,331.64 691.13,331.83 692.27,332.02 693.43,332.21 694.60,332.40 695.78,332.58 696.98,332.77 698.19,332.96 699.41,333.15 700.65,333.33 701.91,333.52 703.18,333.70 704.46,333.89 705.76,334.07 707.07,334.26 708.40,334.44 709.74,334.62 711.10,334.81 712.47,334.99 713.86,335.17 715.27,335.35 716.70,335.53 718.13,335.71 719.59,335.89 721.06,336.07 722.56,336.25 724.06,336.42 725.59,336.60 727.13,336.78 728.69,336.96 730.27,337.13 731.87,337.31 733.48,337.48 735.12,337.66 736.77,337.83 738.44,338.01 740.14,338.18 741.85,338.35 743.58,338.52 745.33,338.70 747.10,338.87 748.89,339.04 750.71,339.21 752.54,339.38 754.40,339.55 756.27,339.72 758.17,339.89 760.09,340.06 762.04,340.23 764.00,340.39 765.99,340.56 768.00,340.73 770.04,340.89 772.10,341.06 774.18,341.23 776.29,341.39 778.42,341.56 780.57,341.72 782.75,341.88 784.96,342.05 787.19,342.21 789.45,342.37 791.73,342.54 794.04,342.70 796.38,342.86 798.74,343.02 801.13,343.18 803.55,343.34 806.00,343.50 808.48,343.66 810.98,343.82 813.51,343.98 816.08,344.14 818.67,344.30 821.29,344.46 823.94,344.62 826.63,344.78 829.34,344.93 832.09,345.09 834.87,345.25 837.68,345.40 840.52,345.56 843.40,345.72 846.31,345.87 849.25,346.03 852.23,346.18 855.24,346.34 858.28,346.49 861.37,346.65 864.48,346.80 867.64,346.95 870.83,347.11 874.06,347.26 877.32,347.41 880.62,347.57 883.97,347.72 887.34,347.87 890.76,348.02 894.22,348.17 897.72,348.33 901.26,348.48 904.84,348.63 908.46,348.78 912.13,348.93 915.83,349.08 919.58,349.23 923.38,349.38 927.21,349.53 931.10,349.68 935.02,349.83 938.99,349.98 943.01,350.13 947.08,350.28 951.19,350.43 955.35,350.58 959.56,350.73 963.81,350.87 968.12,351.02 972.47,351.17 976.88,351.32 981.34,351.47 985.85,351.62 990.41,351.76 995.02,351.91 999.69,352.06 1004.41,352.21 1009.19,352.35 1014.02,352.50 1018.91,352.65 1023.86,352.80 1028.86,352.94 1033.92,353.09 1039.04,353.24 1044.22,353.39 1049.46,353.53 1054.76,353.68 1060.12,353.83 1065.54,353.98" stroke="#40ac2c" stroke-dasharray="3.8 5.37 9.1 5.45"/>
</g>
<g style="will-change:transform">
<rect transform="scale(0.74,1)" x="773.72" y="4.45" width="110.95" height="43.2" fill="none" stroke="#000" stroke-width="2"/>
<text class="t" transform="translate(578.0999999999999,32.6) scale(0.763,1) rotate(0.04)" font-size="28.7">(b). z=3</text>
<text class="t" transform="translate(433.0,73.4) scale(0.77,1) rotate(0.04) skewX(-10)" font-size="29">λ</text>
<text class="t" transform="translate(425.2,97.8) scale(0.755,1) rotate(0.04)" font-size="26.4">2</text>
<text class="t" transform="translate(426.0,300.1) scale(0.56,1) rotate(0.04)" font-size="26.2">1</text>
<text class="t" transform="translate(601.4,399.6) scale(0.735,1) rotate(0.04)" font-size="26.5">0.5</text>
<text class="t" transform="translate(782.0,399.6) scale(0.56,1) rotate(0.04)" font-size="26.5">1</text>
<text class="t" transform="translate(791.0,399.6) scale(0.76,1) rotate(0.04)" font-size="26.5">.</text>
<text class="i" transform="translate(806.5,380.1) scale(0.77,1) rotate(0.04)" font-size="28">ω</text>
<text class="i" transform="translate(821.4,385.1) scale(0.72,1) rotate(0.04)" font-size="21">o</text>
</g>
</svg>
</body></html>
